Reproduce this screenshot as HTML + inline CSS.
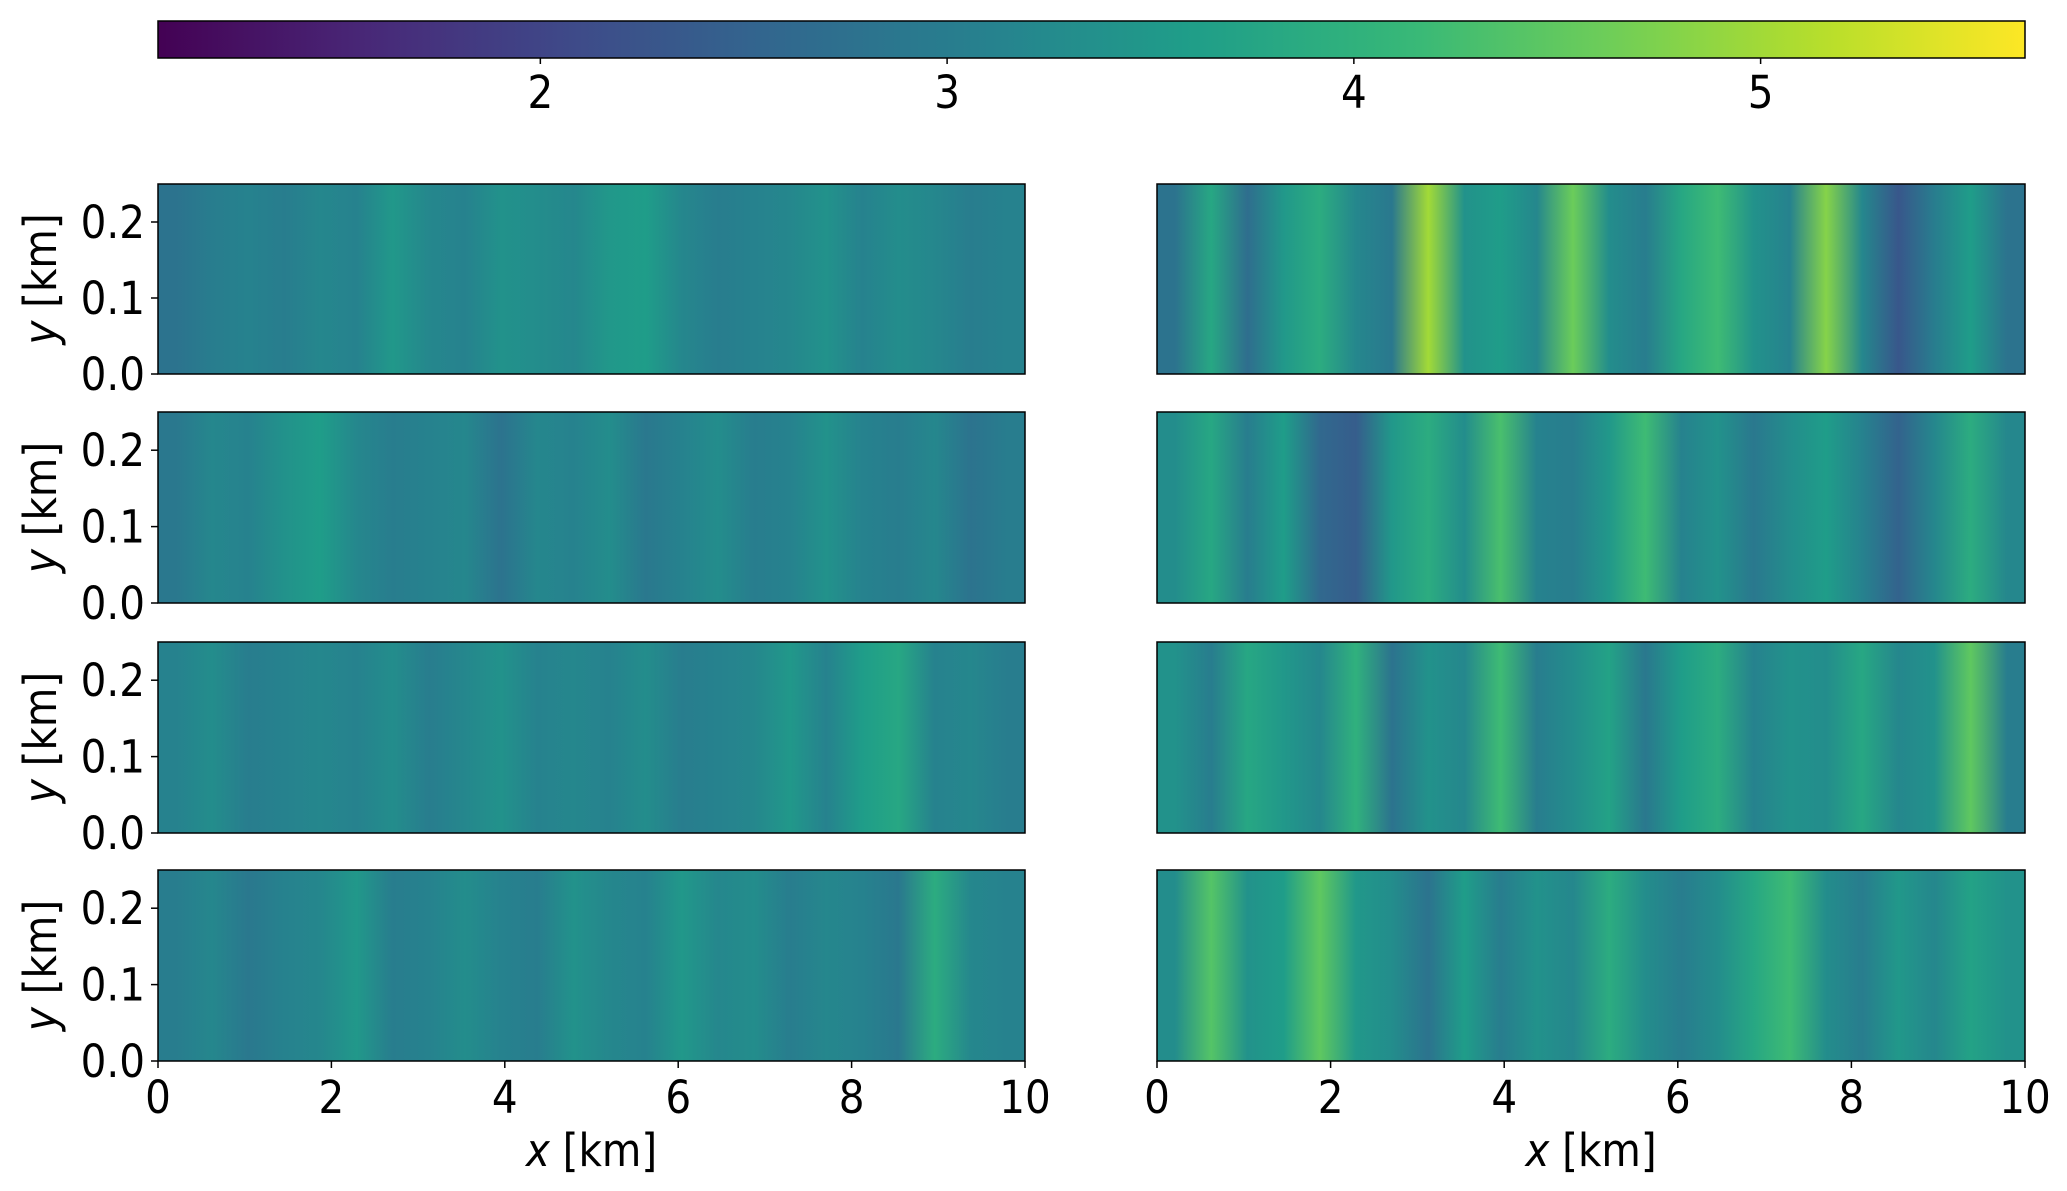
<!DOCTYPE html>
<html><head><meta charset="utf-8"><style>
html,body{margin:0;padding:0;background:#fff}
svg{display:block}
text{font-family:"DejaVu Sans Condensed","DejaVu Sans","Liberation Sans",sans-serif;fill:#000}
</style></head><body>
<svg id="fig" width="2067" height="1191" viewBox="0 0 2067 1191">
<defs id="defs"></defs>
</svg>
<script>
// data: column values per panel (x from 0 to 10 km)
const xTicks = [0, 2, 4, 6, 8, 10];
const yTicks = [0.0, 0.1, 0.2];
const cbarTicks = [2, 3, 4, 5];
const panelL1 = [2.8,3.0,3.1,3.0,3.2,3.1,3.5,3.2,3.1,3.4,3.3,3.2,3.5,3.6,3.2,3.0,3.1,3.2,3.4,3.1,3.3,3.2,3.0,3.1];
const panelL2 = [2.9,3.2,3.1,3.4,3.6,3.2,3.0,3.1,3.2,2.8,3.2,3.1,3.3,2.9,3.1,3.3,3.0,3.1,3.4,3.1,3.0,3.2,2.8,3.0];
const panelL3 = [3.1,3.3,3.0,3.1,3.2,3.1,3.3,3.0,3.2,3.4,3.1,3.2,3.1,3.3,3.0,3.1,3.2,3.5,3.1,3.6,3.8,3.1,3.2,3.0];
const panelL4 = [3.0,3.2,2.9,3.1,3.2,3.5,3.0,3.1,3.3,3.1,3.0,3.4,3.2,3.1,3.5,3.2,3.3,3.0,3.2,3.1,2.9,3.9,3.2,3.1];
const panelR1 = [2.8,3.8,2.7,3.5,3.9,3.2,2.9,5.0,3.4,3.6,3.2,4.6,3.3,3.0,3.8,4.2,3.4,3.1,4.8,3.2,2.3,3.0,3.6,2.8];
const panelR2 = [3.3,3.8,3.0,3.6,2.6,2.4,3.5,3.9,3.3,4.3,3.1,3.0,3.5,4.2,3.1,3.4,2.9,3.3,3.6,3.1,2.5,3.2,3.9,3.2];
const panelR3 = [3.4,3.0,3.8,3.5,3.2,4.0,2.8,3.4,3.2,4.2,3.0,3.3,3.7,2.9,3.6,3.9,3.1,3.4,3.3,3.8,3.2,3.4,4.5,3.0];
const panelR4 = [3.3,4.4,3.4,3.6,4.5,3.5,3.3,2.8,3.6,3.0,3.4,3.2,3.9,3.3,3.0,3.3,3.8,4.2,3.3,3.0,3.5,3.2,3.7,3.4];
const vMin = 1.06, vMax = 5.65;

const NS = "http://www.w3.org/2000/svg";
const svg = document.getElementById('fig');
const defs = document.getElementById('defs');
const VIR = ["#440154","#482878","#3e4a89","#31688e","#26828e","#1f9e89","#35b779","#6ece58","#b5de2b","#fde725"];
function hex(c){return [1,3,5].map(i=>parseInt(c.substr(i,2),16));}
function viridis(v){
  let t=Math.max(0,Math.min(1,(v-vMin)/(vMax-vMin)))*(VIR.length-1);
  let i=Math.min(VIR.length-2,Math.floor(t)),f=t-i;
  const a=hex(VIR[i]),b=hex(VIR[i+1]);
  return "rgb("+a.map((x,k)=>Math.round(x+(b[k]-x)*f)).join(",")+")";
}
function el(tag,attrs,parent){const e=document.createElementNS(NS,tag);for(const k in attrs)e.setAttribute(k,attrs[k]);(parent||svg).appendChild(e);return e;}

// colorbar
const cbX0=158,cbX1=2025,cbY0=21,cbY1=58;
function cbScale(v){return cbX0+(v-vMin)/(vMax-vMin)*(cbX1-cbX0);}
const cg=el('linearGradient',{id:'cbg',x1:0,x2:1,y1:0,y2:0},defs);
for(let i=0;i<=40;i++){const v=vMin+(vMax-vMin)*i/40;el('stop',{offset:i/40,'stop-color':viridis(v)},cg);}
const cb=el('rect',{x:cbX0,y:cbY0,width:cbX1-cbX0,height:cbY1-cbY0,fill:'url(#cbg)',stroke:'#000','stroke-width':1.5});


cbarTicks.forEach(v=>{
  const x=cbScale(v);
  el('line',{x1:x,x2:x,y1:cbY1,y2:cbY1+6,stroke:'#000','stroke-width':1.5});
  const t=el('text',{x:x,y:108,'text-anchor':'middle','font-size':45});
  t.textContent=v;
  
  
});

// panels
const cols=[[158,1025],[1157,2025]];
const rows=[[184,374],[412,603],[642,833],[870,1061]];
const panels=[[panelL1,panelL2,panelL3,panelL4],[panelR1,panelR2,panelR3,panelR4]];
panels.forEach((colPanels,ci)=>{
  const [x0,x1]=cols[ci];
  const xs=v=>x0+v/10*(x1-x0);
  colPanels.forEach((vals,ri)=>{
    const [y0,y1]=rows[ri];
    const ys=v=>y1-v/0.25*(y1-y0);
    const gid='g'+ci+ri;
    const g=el('linearGradient',{id:gid,x1:0,x2:1,y1:0,y2:0},defs);
    vals.forEach((v,i)=>{el('stop',{offset:(i+0.5)/vals.length,'stop-color':viridis(v)},g);});
    const r=el('rect',{x:x0,y:y0,width:x1-x0,height:y1-y0,fill:'url(#'+gid+')',stroke:'#000','stroke-width':1.5});
    
    
    if(ci===0){
      yTicks.forEach(v=>{
        const y=ys(v);
        el('line',{x1:x0-7,x2:x0,y1:y,y2:y,stroke:'#000','stroke-width':1.5});
        const t=el('text',{x:x0-13,y:y+16,'text-anchor':'end','font-size':45});
        t.textContent=v.toFixed(1);
        
        
      });
      const cy=(y0+y1)/2;
      const yl=el('text',{x:0,y:0,'text-anchor':'middle','font-size':45,transform:'translate(56,'+cy+') rotate(-90)'});
      yl.innerHTML='<tspan font-style="italic">y</tspan> [km]';
      
      
    }
    if(ri===3){
      xTicks.forEach(v=>{
        const x=xs(v);
        el('line',{x1:x,x2:x,y1:y1,y2:y1+7,stroke:'#000','stroke-width':1.5});
        const t=el('text',{x:x,y:y1+52,'text-anchor':'middle','font-size':45});
        t.textContent=v;
        
        
      });
      const xl=el('text',{x:(x0+x1)/2,y:1166,'text-anchor':'middle','font-size':45});
      xl.innerHTML='<tspan font-style="italic">x</tspan> [km]';
      
      
    }
  });
});
</script>
</body></html>
